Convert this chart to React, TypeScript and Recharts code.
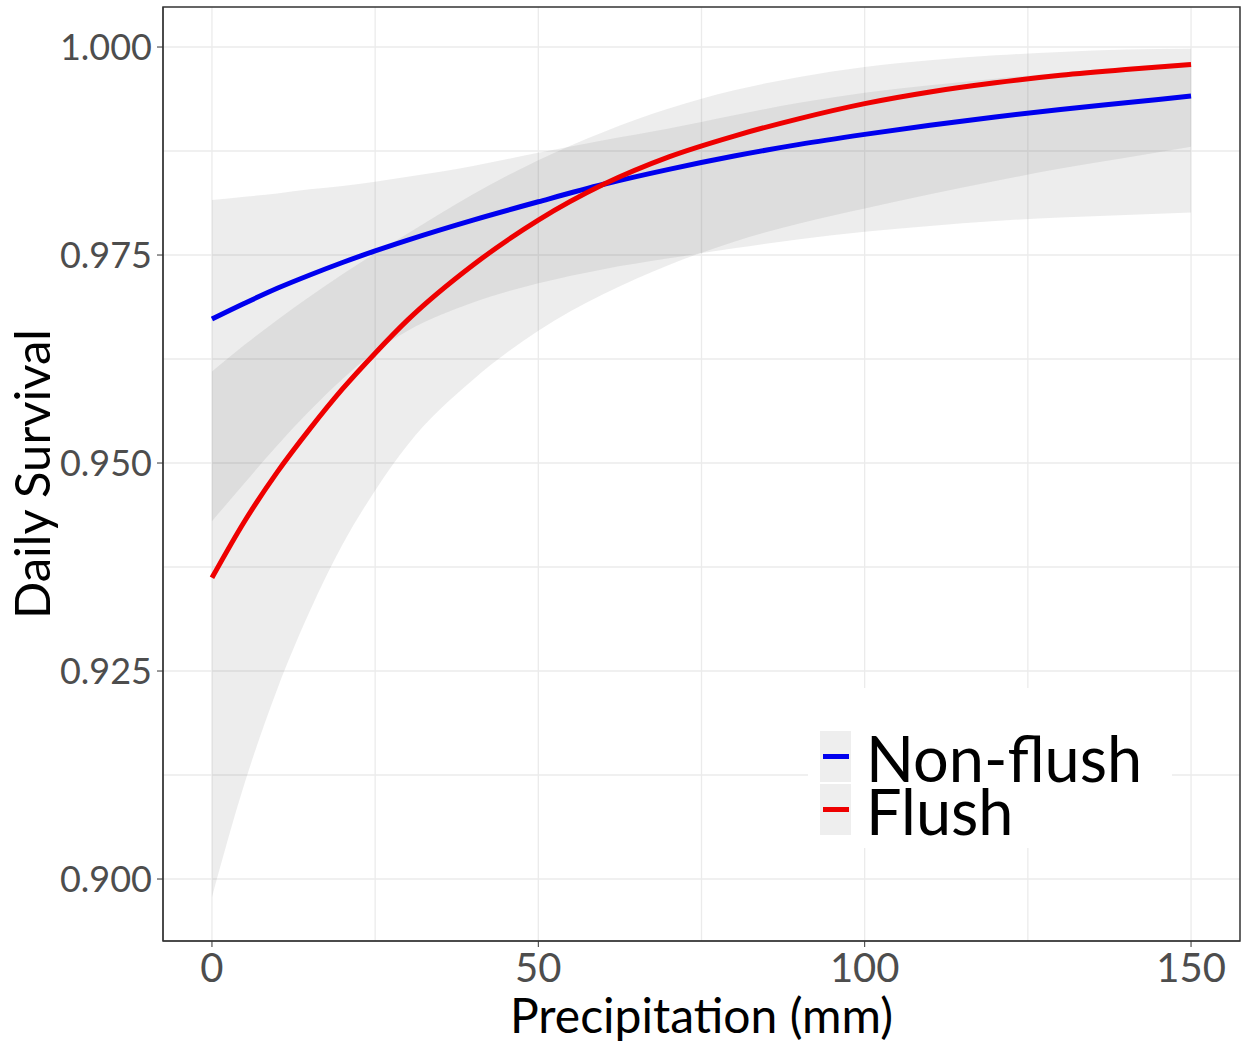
import React from "react";
import {
  ComposedChart,
  Area,
  Line,
  XAxis,
  YAxis,
  CartesianGrid,
  ReferenceArea,
} from "recharts";

/* ── Data ─────────────────────────────────────────────────── */
const precip = [0, 5, 10, 15, 20, 25, 30, 40, 50, 60, 70, 80, 90, 100, 110, 120, 130, 140, 150];

const nonFlush = [
  0.9673, 0.9692, 0.971, 0.9726, 0.9741, 0.9755, 0.9768, 0.9792, 0.9814, 0.9835,
  0.9853, 0.9869, 0.9883, 0.9895, 0.9906, 0.9916, 0.9925, 0.9933, 0.9941,
];
const nonFlushLow = [
  0.943, 0.9476, 0.9521, 0.9563, 0.9601, 0.9634, 0.9659, 0.9693, 0.9716, 0.9733,
  0.9746, 0.9758, 0.9769, 0.9778, 0.9785, 0.9791, 0.9795, 0.9798, 0.9801,
];
const nonFlushHigh = [
  0.9816, 0.982, 0.9824, 0.9829, 0.9833, 0.9838, 0.9844, 0.9857, 0.9873, 0.9888,
  0.9902, 0.9918, 0.9933, 0.9945, 0.9954, 0.9962, 0.9969, 0.9976, 0.9982,
];

const flush = [
  0.9362, 0.943, 0.9489, 0.9541, 0.9589, 0.9632, 0.9672, 0.9738, 0.9792, 0.9835,
  0.9868, 0.9893, 0.9914, 0.9932, 0.9946, 0.9957, 0.9966, 0.9973, 0.9979,
];
const flushLow = [
  0.8978, 0.9115, 0.9228, 0.9322, 0.9402, 0.9467, 0.9522, 0.96, 0.9659, 0.9703,
  0.9738, 0.9766, 0.9788, 0.9806, 0.9823, 0.9839, 0.9854, 0.9867, 0.988,
];
const flushHigh = [
  0.961, 0.9642, 0.9672, 0.97, 0.9727, 0.9752, 0.9776, 0.9823, 0.9864, 0.9898,
  0.9926, 0.9948, 0.9964, 0.9976, 0.9984, 0.999, 0.9994, 0.9997, 0.9998,
];

const seriesNames = ["Non-flush", "Flush"];
const seriesColors = ["#0000EE", "#EE0000"];

const xTicks = [0, 50, 100, 150];
const xGrid = [0, 25, 50, 75, 100, 125, 150];
const yTicks = [0.9, 0.925, 0.95, 0.975, 1.0];
const yGrid = [0.9, 0.9125, 0.925, 0.9375, 0.95, 0.9625, 0.975, 0.9875, 1.0];

const xDomain: [number, number] = [-7.5, 157.5];
const yDomain: [number, number] = [0.89255, 1.00481];

const data = precip.map((x, i) => ({
  x,
  nonFlush: nonFlush[i],
  flush: flush[i],
  nonFlushCI: [nonFlushLow[i], nonFlushHigh[i]],
  flushCI: [flushLow[i], flushHigh[i]],
}));

const FONT = "Lato, 'DejaVu Sans', sans-serif";
const W = 1241;
const H = 1044;

/* ── Axis titles ──────────────────────────────────────────── */
// eslint-disable-next-line @typescript-eslint/no-explicit-any
function XTitle(props: any) {
  const { viewBox } = props;
  return (
    <text
      x={viewBox.x + viewBox.width / 2}
      y={viewBox.y + viewBox.height - 11}
      textAnchor="middle"
      fontSize={48}
      fill="#000"
      fontFamily={FONT}
    >
      Precipitation (mm)
    </text>
  );
}

// eslint-disable-next-line @typescript-eslint/no-explicit-any
function YTitle(props: any) {
  const { viewBox } = props;
  const cx = 50;
  const cy = viewBox.y + viewBox.height / 2;
  return (
    <text
      x={cx}
      y={cy}
      transform={`rotate(-90 ${cx} ${cy})`}
      textAnchor="middle"
      fontSize={49}
      fill="#000"
      fontFamily={FONT}
    >
      Daily Survival
    </text>
  );
}

/* ── Legend overlay (inside the panel, bottom right) ───────── */
function LegendBox() {
  return (
    <svg
      width={W}
      height={H}
      style={{ position: "absolute", left: 0, top: 0, pointerEvents: "none" }}
    >
      <rect x={808} y={688} width={364} height={160} fill="#fff" />
      {seriesNames.map((name, i) => (
        <g key={name}>
          <rect x={820} y={731 + i * 53} width={31} height={51} fill="#EEEEEE" />
          <rect x={823} y={754 + i * 53} width={26} height={5} fill={seriesColors[i]} />
          <text x={866} y={782 + i * 53} fontSize={63} fill="#000" fontFamily={FONT}>
            {name}
          </text>
        </g>
      ))}
    </svg>
  );
}

export default function App() {
  return (
    <div
      style={{
        position: "absolute",
        left: 0,
        top: 0,
        width: W,
        height: H,
        background: "#fff",
        fontFamily: FONT,
      }}
    >
      <ComposedChart
        width={W}
        height={H}
        data={data}
        margin={{ top: 7, right: 1, bottom: 0, left: 0 }}
      >
        <CartesianGrid
          stroke="#EBEBEB"
          strokeWidth={1.3}
          verticalValues={xGrid}
          horizontalValues={yGrid}
        />
        <XAxis
          dataKey="x"
          type="number"
          domain={xDomain}
          ticks={xTicks}
          allowDataOverflow
          height={103}
          tickSize={6}
          tickMargin={7}
          stroke="#333"
          tick={{ fontSize: 40, fill: "#4D4D4D", fontFamily: FONT }}
          label={<XTitle />}
        />
        <YAxis
          type="number"
          domain={yDomain}
          ticks={yTicks}
          allowDataOverflow
          width={163}
          tickSize={6}
          tickMargin={5}
          stroke="#333"
          tickFormatter={(v: number) => v.toFixed(3)}
          tick={{ fontSize: 36, fill: "#4D4D4D", fontFamily: FONT }}
          label={<YTitle />}
        />
        <Area
          type="monotone"
          dataKey="nonFlushCI"
          stroke="none"
          fill="#6F6F6F"
          fillOpacity={0.12}
          isAnimationActive={false}
          activeDot={false}
        />
        <Area
          type="monotone"
          dataKey="flushCI"
          stroke="none"
          fill="#6F6F6F"
          fillOpacity={0.12}
          isAnimationActive={false}
          activeDot={false}
        />
        <Line
          type="monotone"
          dataKey="nonFlush"
          stroke={seriesColors[0]}
          strokeWidth={5}
          dot={false}
          isAnimationActive={false}
        />
        <Line
          type="monotone"
          dataKey="flush"
          stroke={seriesColors[1]}
          strokeWidth={5}
          dot={false}
          isAnimationActive={false}
        />
        <ReferenceArea
          x1={xDomain[0]}
          x2={xDomain[1]}
          y1={yDomain[0]}
          y2={yDomain[1]}
          fill="none"
          stroke="#333"
          strokeWidth={1.5}
        />
      </ComposedChart>
      <LegendBox />
    </div>
  );
}
